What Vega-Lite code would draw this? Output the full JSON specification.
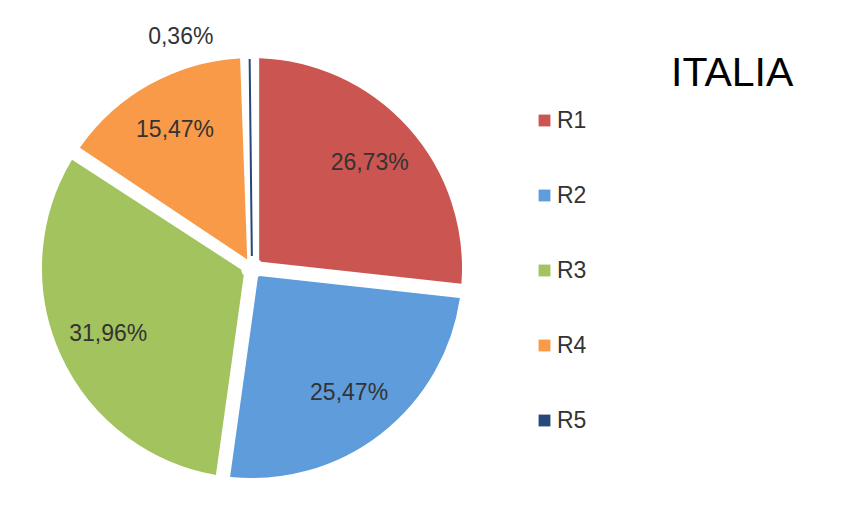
{
  "$schema": "https://vega.github.io/schema/vega-lite/v6.json",
  "width": 504,
  "height": 486,
  "autosize": "none",
  "padding": {"top": 25, "left": 0, "right": 357, "bottom": 0},
  "background": "white",
  "config": {"view": {"stroke": null}, "font": "Liberation Sans"},
  "title": {
    "text": "ITALIA",
    "anchor": "start",
    "frame": "group",
    "orient": "top",
    "dx": 671,
    "dy": 115,
    "fontSize": 41,
    "fontWeight": "normal",
    "font": "Liberation Sans",
    "color": "#000000",
    "baseline": "bottom"
  },
  "data": {
    "values": [
      {"region": "R1", "value": 26.73, "label": "26,73%"},
      {"region": "R2", "value": 25.47, "label": "25,47%"},
      {"region": "R3", "value": 31.96, "label": "31,96%"},
      {"region": "R4", "value": 15.47, "label": "15,47%"},
      {"region": "R5", "value": 0.36, "label": "0,36%"}
    ]
  },
  "encoding": {
    "theta": {"field": "value", "type": "quantitative", "stack": true},
    "order": {"field": "region", "type": "ordinal", "sort": "ascending"}
  },
  "layer": [
    {
      "mark": {"type": "arc", "outerRadius": 209, "innerRadius": 12, "padAngle": 0.078, "strokeWidth": 2},
      "encoding": {
        "fill": {
          "field": "region",
          "type": "nominal",
          "scale": {"domain": ["R1", "R2", "R3", "R4", "R5"], "range": ["#CB5551", "#5E9CDB", "#A2C35E", "#F89A48", "#24497A"]},
          "legend": {
            "title": null,
            "orient": "none",
            "legendX": 533,
            "legendY": 84,
            "symbolType": "square",
            "symbolSize": 140,
            "symbolStrokeWidth": 0,
            "labelFontSize": 23,
            "labelFont": "Liberation Sans",
            "labelColor": "#333333",
            "labelOffset": 1,
            "rowPadding": 51
          }
        },
        "stroke": {
          "field": "region",
          "type": "nominal",
          "scale": {"domain": ["R1", "R2", "R3", "R4", "R5"], "range": ["#CB5551", "#5E9CDB", "#A2C35E", "#F89A48", "#24497A"]},
          "legend": null
        }
      }
    },
    {
      "mark": {"type": "text", "radius": 158, "fontSize": 23, "font": "Liberation Sans", "color": "#333333"},
      "encoding": {
        "text": {"condition": {"test": "datum.region !== 'R5'", "field": "label"}, "value": ""}
      }
    },
    {
      "mark": {"type": "text", "radius": 231, "fontSize": 23, "font": "Liberation Sans", "color": "#333333", "align": "right", "dx": -36},
      "encoding": {
        "text": {"condition": {"test": "datum.region === 'R5'", "field": "label"}, "value": ""}
      }
    }
  ]
}
